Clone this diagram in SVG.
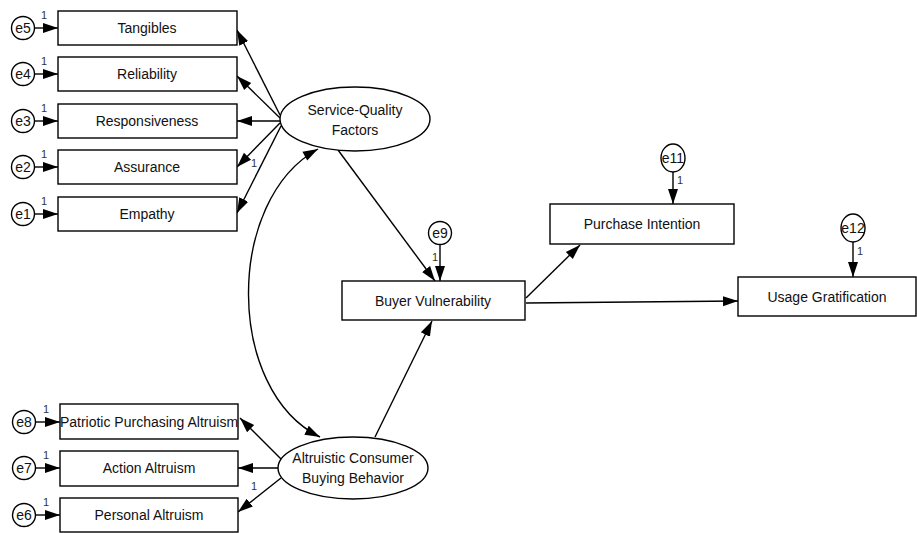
<svg xmlns="http://www.w3.org/2000/svg" width="917" height="533" viewBox="0 0 917 533">
<defs>
<marker id="ah" markerUnits="userSpaceOnUse" markerWidth="16" markerHeight="12" refX="15" refY="6" orient="auto">
<path d="M0,1 L15,6 L0,11 Z" fill="#000"/>
</marker>
<marker id="as" markerUnits="userSpaceOnUse" markerWidth="16" markerHeight="12" refX="0" refY="6" orient="auto">
<path d="M15,1 L0,6 L15,11 Z" fill="#000"/>
</marker>
<style>
.box{fill:#fff;stroke:#000;stroke-width:1.4}
.t{font-family:"Liberation Sans",Arial,sans-serif;font-size:14px;fill:#111;text-anchor:middle;dominant-baseline:central}
.e{font-family:"Liberation Sans",Arial,sans-serif;font-size:14px;fill:#111;text-anchor:middle;dominant-baseline:central}
.one{font-family:"Liberation Sans",Arial,sans-serif;font-size:11px;fill:#333;text-anchor:middle}
.c{fill:none;stroke:#000;stroke-width:1.4;marker-end:url(#ah)}
</style>
</defs>
<rect width="917" height="533" fill="#fff"/>
<g id="connectors">
<line class="c" x1="35" y1="28" x2="58" y2="28"/>
<line class="c" x1="35" y1="74" x2="58" y2="74"/>
<line class="c" x1="35" y1="121" x2="58" y2="121"/>
<line class="c" x1="35" y1="167" x2="58" y2="167"/>
<line class="c" x1="35" y1="214" x2="58" y2="214"/>
<line class="c" x1="36" y1="422" x2="60" y2="422"/>
<line class="c" x1="36" y1="468" x2="60" y2="468"/>
<line class="c" x1="36" y1="515" x2="60" y2="515"/>
<line class="c" x1="280" y1="115" x2="237" y2="30"/>
<line class="c" x1="280" y1="118" x2="237" y2="76"/>
<line class="c" x1="280" y1="121" x2="237" y2="121"/>
<line class="c" x1="280" y1="123" x2="237" y2="167"/>
<line class="c" x1="281" y1="126" x2="237" y2="213"/>
<line class="c" x1="281" y1="459" x2="240" y2="418"/>
<line class="c" x1="278" y1="468" x2="238" y2="468"/>
<line class="c" x1="281" y1="478" x2="238" y2="512"/>
<path class="c" d="M318,149 C225,200 225,390 320,437" marker-start="url(#as)"/>
<line class="c" x1="338" y1="150" x2="435" y2="281"/>
<line class="c" x1="375" y1="437" x2="432" y2="321"/>
<line class="c" x1="440" y1="244" x2="440" y2="281"/>
<line class="c" x1="526" y1="298" x2="580" y2="245"/>
<line class="c" x1="526" y1="303" x2="738" y2="301"/>
<line class="c" x1="673" y1="172" x2="673" y2="204"/>
<line class="c" x1="853" y1="242" x2="853" y2="277"/>
<text class="one" x="44" y="19">1</text>
<text class="one" x="44" y="65">1</text>
<text class="one" x="44" y="112">1</text>
<text class="one" x="44" y="158">1</text>
<text class="one" x="44" y="205">1</text>
<text class="one" x="46" y="413">1</text>
<text class="one" x="46" y="459">1</text>
<text class="one" x="46" y="506">1</text>
<text class="one" x="254" y="167">1</text>
<text class="one" x="254" y="490">1</text>
<text class="one" x="435" y="261">1</text>
<text class="one" x="680" y="184">1</text>
<text class="one" x="860" y="255">1</text>
</g>
<g id="e5"><circle class="box" cx="23" cy="28" r="11.5"/><text class="e" x="23" y="28">e5</text></g>
<g id="e4"><circle class="box" cx="23" cy="74" r="11.5"/><text class="e" x="23" y="74">e4</text></g>
<g id="e3"><circle class="box" cx="23" cy="121" r="11.5"/><text class="e" x="23" y="121">e3</text></g>
<g id="e2"><circle class="box" cx="23" cy="167" r="11.5"/><text class="e" x="23" y="167">e2</text></g>
<g id="e1"><circle class="box" cx="23" cy="214" r="11.5"/><text class="e" x="23" y="214">e1</text></g>
<g id="e8"><circle class="box" cx="24" cy="422" r="11.5"/><text class="e" x="24" y="422">e8</text></g>
<g id="e7"><circle class="box" cx="24" cy="468" r="11.5"/><text class="e" x="24" y="468">e7</text></g>
<g id="e6"><circle class="box" cx="24" cy="515" r="11.5"/><text class="e" x="24" y="515">e6</text></g>
<g id="e9"><circle class="box" cx="440" cy="233" r="11.5"/><text class="e" x="440" y="233">e9</text></g>
<g id="e11"><ellipse class="box" cx="673" cy="158" rx="12" ry="14"/><text class="e" x="673" y="158">e11</text></g>
<g id="e12"><ellipse class="box" cx="853" cy="228" rx="12" ry="14"/><text class="e" x="853" y="228">e12</text></g>
<g id="tangibles"><rect class="box" x="58" y="11" width="179" height="34"/><text class="t" x="147" y="28">Tangibles</text></g>
<g id="reliability"><rect class="box" x="58" y="57" width="179" height="34"/><text class="t" x="147" y="74">Reliability</text></g>
<g id="responsiveness"><rect class="box" x="58" y="104" width="179" height="34"/><text class="t" x="147" y="121">Responsiveness</text></g>
<g id="assurance"><rect class="box" x="58" y="150" width="179" height="34"/><text class="t" x="147" y="167">Assurance</text></g>
<g id="empathy"><rect class="box" x="58" y="197" width="179" height="34"/><text class="t" x="147" y="214">Empathy</text></g>
<g id="patriotic"><rect class="box" x="60" y="404" width="178" height="35"/><text class="t" x="149" y="422">Patriotic Purchasing Altruism</text></g>
<g id="action"><rect class="box" x="60" y="451" width="178" height="35"/><text class="t" x="149" y="468">Action Altruism</text></g>
<g id="personal"><rect class="box" x="60" y="498" width="178" height="34"/><text class="t" x="149" y="515">Personal Altruism</text></g>
<g id="sqf"><ellipse class="box" cx="355" cy="119" rx="75" ry="32"/><text class="t" x="355" y="110">Service-Quality</text><text class="t" x="355" y="130">Factors</text></g>
<g id="acbb"><ellipse class="box" cx="353" cy="468" rx="75" ry="31"/><text class="t" x="353" y="458">Altruistic Consumer</text><text class="t" x="353" y="478">Buying Behavior</text></g>
<g id="bv"><rect class="box" x="342" y="281" width="183" height="39"/><text class="t" x="433" y="301">Buyer Vulnerability</text></g>
<g id="pi"><rect class="box" x="550" y="204" width="184" height="40"/><text class="t" x="642" y="224">Purchase Intention</text></g>
<g id="ug"><rect class="box" x="738" y="277" width="178" height="39"/><text class="t" x="827" y="297">Usage Gratification</text></g>
</svg>
